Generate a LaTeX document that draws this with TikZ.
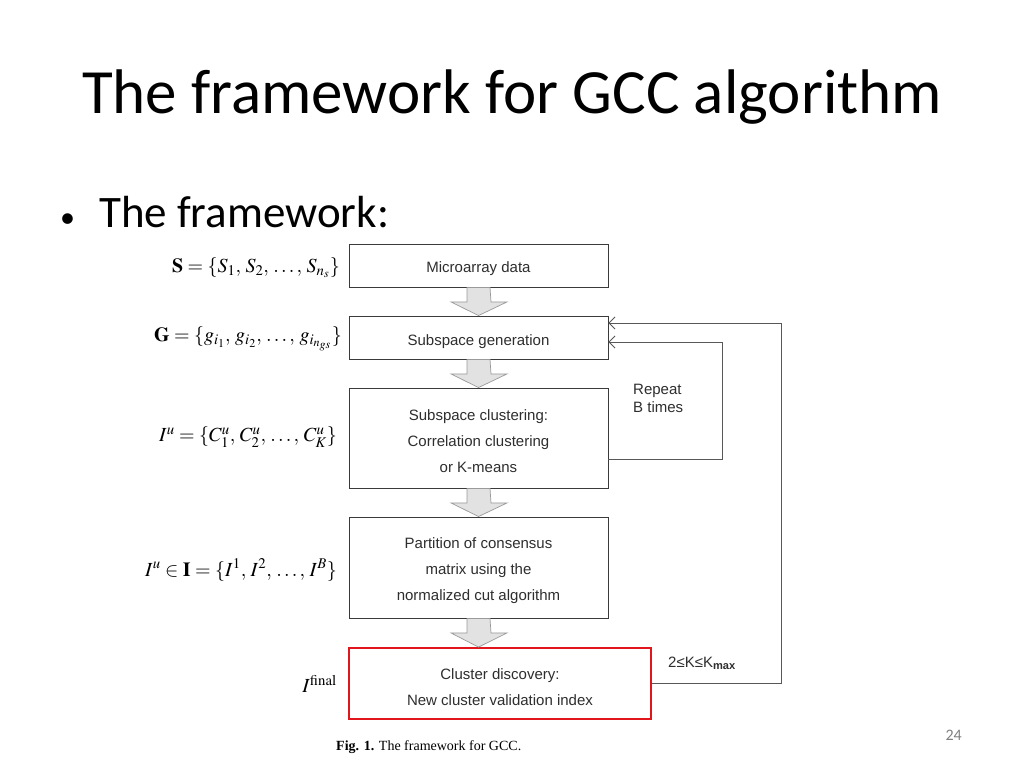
\documentclass[tikz,border=0pt]{standalone}
\usepackage{mathptmx}
\usepackage[no-math]{fontspec}
\setmainfont{Carlito}
\newfontfamily\figfont{Liberation Sans}
\newfontfamily\capfont{Liberation Serif}
\usetikzlibrary{arrows.meta,calc}
\definecolor{boxline}{HTML}{3A3A3A}
\definecolor{boxtext}{HTML}{2E2E2E}
\definecolor{arrfill}{HTML}{E2E2E2}
\definecolor{arrline}{HTML}{9A9A9A}
\definecolor{redline}{HTML}{E0161C}
\newcommand{\topstrut}{\rule{0pt}{17pt}}
\newcommand{\midstrut}{\rule{0pt}{19pt}}
\begin{document}
\begin{tikzpicture}[x=1pt,y=-1pt,
  stagebox/.style={draw=boxline,line width=0.9pt,minimum width=259pt,inner sep=0pt,
    font=\figfont\fontsize{15}{26}\selectfont,text=boxtext,align=center},
  redbox/.style={stagebox,draw=redline,line width=1.8pt,minimum width=302pt},
  hollow/.style={draw=arrline,fill=arrfill,line width=0.7pt,line join=miter},
  fb/.style={draw=boxline!85,line width=0.8pt,-{Straight Barb[length=6pt,width=12pt,line width=0.8pt]}},
  mathlbl/.style={anchor=east,inner sep=0pt,font=\fontsize{20}{24}\selectfont},
  note/.style={font=\figfont\fontsize{15}{18}\selectfont,text=boxtext,align=left,inner sep=0pt}]
\useasboundingbox (0,0) rectangle (1024,768);
\fill[white] (0,0) rectangle (1024,768);

% title and bullet
\node[font=\fontsize{63}{70}\selectfont] (title) at (512,97) {The framework for GCC algorithm};
\node[font=\fontsize{45}{50}\selectfont,anchor=west,inner sep=0pt] (bullet) at (60,212) {{\fontsize{30}{30}\selectfont\textbullet}\hspace{24pt}The framework:};

% boxes
\node[stagebox,minimum height=43pt] (b1) at (478.5,265.5) {\topstrut Microarray data};
\node[stagebox,minimum height=43pt] (b2) at (478.5,337.5) {\midstrut Subspace generation};
\node[stagebox,minimum height=100pt] (b3) at (478.5,438) {\topstrut Subspace clustering:\\Correlation clustering\\or K-means};
\node[stagebox,minimum height=101pt] (b4) at (478.5,567.5) {\topstrut Partition of consensus\\matrix using the\\normalized cut algorithm};
\node[redbox,minimum height=71pt] (b5) at (500,683.5) {\midstrut Cluster discovery:\\New cluster validation index};

% hollow arrows between boxes
\foreach \a/\b in {b1/b2,b2/b3,b3/b4,b4/b5}{
  \draw[hollow] ($(\a.south)+(-11.5,0)$) -- ++(0,14.5) -- ++(-16,0)
     -- (\a.south |- \b.north) -- ($(\a.south)+(28.5,14.5)$) -- ++(-16,0)
     -- ($(\a.south)+(11.5,0)$) -- cycle;
}

% feedback loops
\coordinate (r1) at (722,400);
\coordinate (r2) at (781,500);
\draw[fb] ([yshift=-21pt]b3.east) -| (r1) |- ([yshift=-4.5pt]b2.east);
\draw[fb] (b5.east) -| (r2) |- ([yshift=14.5pt]b2.east);

\node[note,anchor=north west] (rep) at (633,384) {Repeat\\B times};
\node[note,anchor=west] (kk) at (668,663) {2≤K≤K\textsubscript{\bfseries max}};

% math labels
\node[mathlbl] (ls) at (340,268) {$\mathbf{S}=\{S_1,\,S_2,\,\ldots,\,S_{n_s}\}$};
\node[mathlbl] (lg) at (342,339) {$\mathbf{G}=\{g_{i_1},\,g_{i_2},\,\ldots,\,g_{i_{n_{gs}}}\}$};
\node[mathlbl] (lu) at (337,437) {$I^u=\{C^u_1,\,C^u_2,\,\ldots,\,C^u_K\}$};
\node[mathlbl] (li) at (337,570) {$I^u\in\mathbf{I}=\{I^1,\,I^2,\,\ldots,\,I^B\}$};
\node[mathlbl] (lf) at (337,684) {$I^{\mathrm{final}}$};

% caption and page number
\node[font=\capfont\fontsize{14}{16}\selectfont,anchor=west,inner sep=0pt] (cap) at (336,747) {\textbf{Fig. 1.} The framework for GCC.};
\node[font=\fontsize{16}{18}\selectfont,text=gray,anchor=east,inner sep=0pt] (pg) at (962,735) {24};
\end{tikzpicture}
\end{document}
